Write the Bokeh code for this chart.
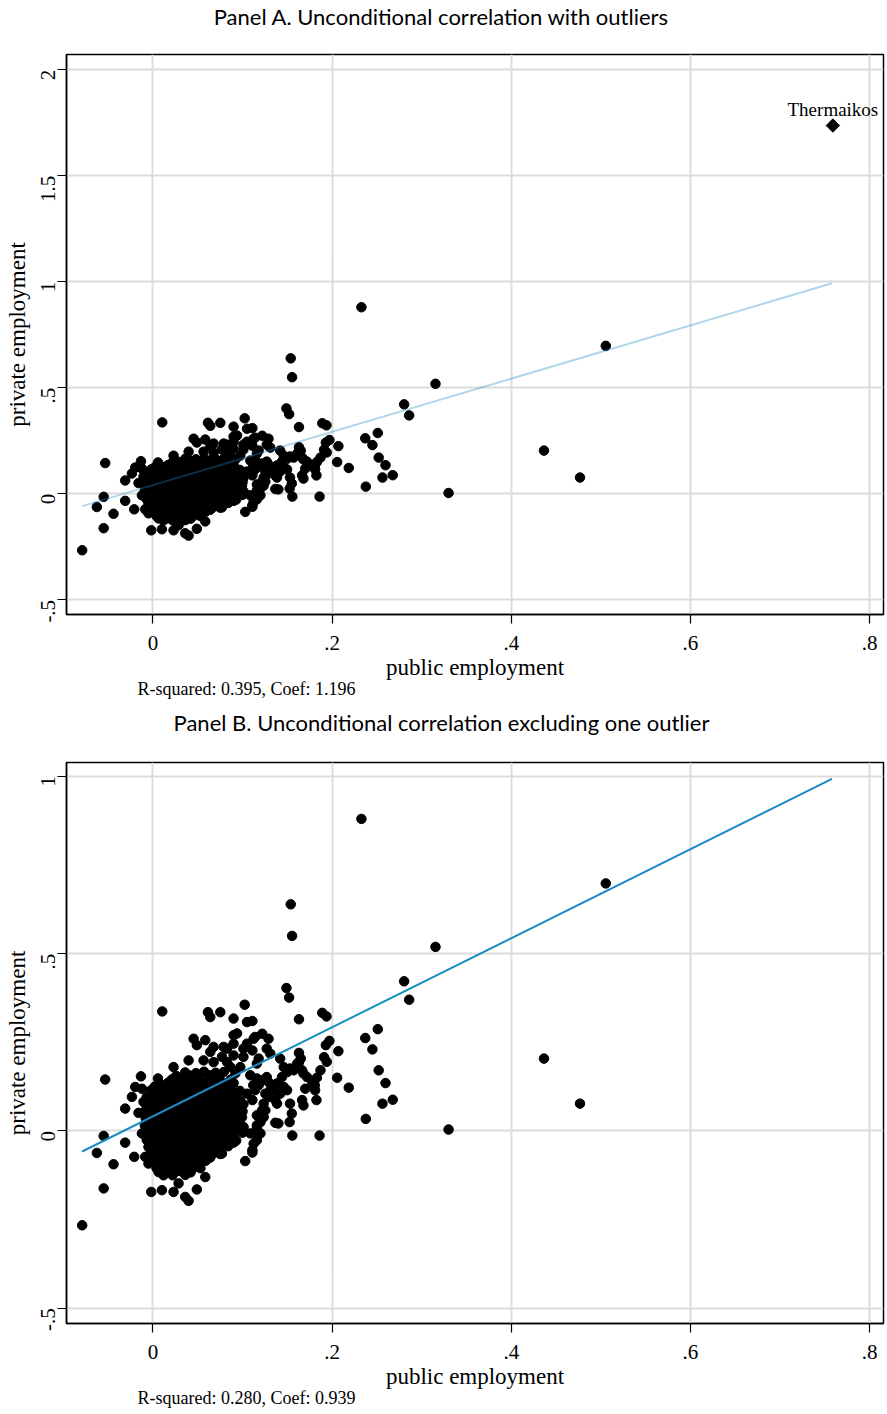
import math
from bokeh.plotting import figure
from bokeh.models import FixedTicker, Title, Range1d, ColumnDataSource
from bokeh.layouts import column
from bokeh.embed import file_html
from bokeh.resources import INLINE
from bokeh.core.properties import value

# ---------------- data ----------------
# scattered municipalities (public employment growth, private employment growth)
pub_outer = [0.2327, 0.1538, 0.1553, 0.3154, 0.2804, 0.286, 0.149, 0.152, 0.5055, 0.4365,
             0.4767, 0.330, 0.189, 0.1937, 0.163, 0.111, 0.251, 0.237, 0.245, 0.197,
             0.193, 0.207, 0.163, 0.165, 0.252, 0.2596, 0.191, 0.194, 0.2056, 0.2186,
             0.2677, 0.2562, 0.2376, 0.186, 0.1556, 0.187, 0.183, 0.1806, 0.170, 0.168,
             0.1665, 0.1825, 0.161, 0.1665, 0.168, 0.153, 0.155, 0.1526, 0.140, 0.1366,
             0.1236, 0.116, 0.116, 0.1124, 0.111, 0.146, 0.1497, 0.142, 0.1366, 0.1385,
             0.131, 0.1255, 0.1236, 0.1218, 0.127, 0.129, 0.122, 0.116, 0.118, 0.112,
             0.142, 0.146, 0.153, 0.157, 0.114, 0.122, 0.129, 0.127, 0.131, 0.118,
             0.0104, 0.0614, 0.064, 0.0752, 0.1024, 0.090, 0.105, 0.0939, 0.090, 0.1124,
             0.0454, 0.0584, 0.049, 0.0677, 0.0789, 0.090, 0.064, 0.0827, 0.0398, 0.023,
             0.0056, -0.0533, -0.0134, -0.0198, -0.0123, -0.0235, -0.031, -0.0161, -0.0105, -0.055,
             -0.0626, -0.044, -0.031, -0.0209, -0.055, -0.0019, -0.0123, -0.0086, -0.005, 0.0063,
             0.0118, 0.010, 0.023, 0.0286, 0.036, 0.0398, 0.049, 0.0584, 0.077, 0.103,
             0.111, 0.1087, 0.1012, 0.0994, 0.116, 0.116, 0.111, 0.105, 0.114, 0.1087,
             0.092, 0.0975, 0.116, 0.0864, -0.079, 0.172, 0.178, 0.181, 0.163, 0.150,
             0.144, 0.1385, 0.135, 0.129, 0.1255, 0.120, 0.0565, 0.0677, 0.0827, 0.101,
             0.111, 0.090, 0.077, 0.101, 0.105, 0.120, 0.116]
priv_outer = [0.880, 0.639, 0.550, 0.519, 0.422, 0.370, 0.403, 0.376, 0.698, 0.204,
              0.077, 0.004, 0.333, 0.323, 0.315, 0.310, 0.287, 0.262, 0.230, 0.254,
              0.242, 0.225, 0.220, 0.204, 0.171, 0.135, 0.208, 0.195, 0.150, 0.122,
              0.088, 0.077, 0.034, -0.013, -0.013, 0.171, 0.150, 0.129, 0.119, 0.072,
              0.087, 0.087, 0.190, 0.171, 0.162, 0.077, 0.049, 0.025, 0.021, 0.023,
              0.039, 0.007, -0.007, -0.036, -0.054, 0.124, 0.115, 0.105, 0.087, 0.077,
              0.115, 0.105, 0.077, 0.058, 0.152, 0.138, 0.143, 0.148, 0.129, 0.129,
              0.204, 0.180, 0.176, 0.171, 0.265, 0.274, 0.260, 0.232, 0.218, 0.204,
              0.337, 0.335, 0.321, 0.335, 0.356, 0.317, 0.307, 0.275, 0.270, 0.260,
              0.260, 0.256, 0.242, 0.237, 0.237, 0.246, 0.223, 0.232, 0.199, 0.180,
              0.148, 0.145, 0.154, 0.124, 0.119, 0.096, 0.063, 0.051, 0.082, -0.014,
              -0.062, -0.094, -0.033, -0.073, -0.162, -0.172, -0.007, -0.073, -0.092, -0.116,
              -0.125, -0.167, -0.172, -0.148, -0.186, -0.197, -0.165, -0.130, -0.064, -0.085,
              -0.061, -0.007, 0.011, 0.039, 0.016, 0.044, 0.087, 0.105, 0.115, 0.157,
              0.162, 0.180, 0.190, 0.180, -0.266, 0.152, 0.134, 0.115, 0.194, 0.166,
              0.152, 0.134, 0.115, 0.096, 0.058, 0.025, 0.199, 0.194, 0.194, 0.209,
              0.227, 0.213, 0.209, 0.232, 0.246, -0.007, -0.026]

# dense core of the cloud (solid black in the picture)
pub_core = [0.036, 0.048, 0.057, 0.070, 0.079,
            0.021, 0.031, 0.043, 0.052, 0.065, 0.074, 0.087,
            0.002, 0.013, 0.022, 0.034, 0.043, 0.054, 0.063, 0.075, 0.084,
            0.000, 0.011, 0.019, 0.031, 0.040, 0.051, 0.059, 0.071, 0.080, 0.092,
            -0.003, 0.008, 0.017, 0.028, 0.036, 0.047, 0.058, 0.066, 0.078, 0.087, 0.097,
            -0.005, 0.005, 0.016, 0.024, 0.035, 0.046, 0.054, 0.066, 0.074, 0.086, 0.095,
            -0.004, 0.007, 0.015, 0.027, 0.036, 0.045, 0.057, 0.065, 0.077, 0.086,
            -0.006, 0.004, 0.014, 0.025, 0.033, 0.044, 0.055, 0.063, 0.074, 0.083, 0.094,
            -0.005, 0.006, 0.015, 0.024, 0.036, 0.045, 0.054, 0.066, 0.075, 0.085, 0.095,
            -0.004, 0.006, 0.017, 0.026, 0.035, 0.047, 0.056, 0.065, 0.077, 0.088,
            -0.002, 0.009, 0.018, 0.027, 0.038, 0.049, 0.058, 0.067, 0.079, 0.090,
            0.000, 0.010, 0.021, 0.030, 0.041, 0.050, 0.061, 0.070,
            0.004, 0.015, 0.024, 0.033, 0.045, 0.054, 0.064,
            0.008, 0.018, 0.029, 0.038, 0.048,
            0.017, 0.030, 0.042,
            0.026, 0.041, 0.052, 0.063, 0.074,
            0.007, 0.017, 0.027, 0.038, 0.048, 0.058, 0.069, 0.080, 0.090,
            -0.002, 0.006, 0.016, 0.025, 0.036, 0.046, 0.056, 0.065, 0.076, 0.086, 0.097,
            -0.007, 0.002, 0.012, 0.022, 0.032, 0.042, 0.053, 0.062, 0.072, 0.083, 0.093,
            -0.008, 0.001, 0.011, 0.021, 0.031, 0.041, 0.051, 0.061, 0.071, 0.081, 0.092, 0.101,
            -0.009, 0.000, 0.010, 0.020, 0.030, 0.040, 0.050, 0.060, 0.070, 0.080, 0.091, 0.100,
            -0.008, 0.001, 0.011, 0.021, 0.031, 0.041, 0.051, 0.061, 0.071, 0.081, 0.090,
            -0.009, 0.000, 0.009, 0.019, 0.029, 0.039, 0.049, 0.059, 0.069, 0.079, 0.089, 0.099,
            -0.008, 0.000, 0.010, 0.020, 0.030, 0.040, 0.050, 0.060, 0.070, 0.080, 0.090, 0.100,
            -0.007, 0.001, 0.011, 0.021, 0.031, 0.041, 0.051, 0.061, 0.071, 0.082, 0.093,
            -0.005, 0.004, 0.013, 0.023, 0.033, 0.043, 0.053, 0.063, 0.073, 0.084,
            -0.003, 0.006, 0.015, 0.025, 0.035, 0.045, 0.055, 0.066, 0.075,
            0.000, 0.010, 0.019, 0.029, 0.039, 0.049, 0.059,
            0.004, 0.013, 0.023, 0.034, 0.044, 0.053,
            0.022, 0.036]
priv_core = [0.165, 0.163, 0.167, 0.164, 0.166,
             0.145, 0.147, 0.144, 0.146, 0.143, 0.147, 0.145,
             0.125, 0.127, 0.124, 0.126, 0.123, 0.127, 0.125, 0.124, 0.126,
             0.105, 0.103, 0.107, 0.104, 0.106, 0.103, 0.107, 0.105, 0.104, 0.106,
             0.085, 0.087, 0.084, 0.086, 0.083, 0.087, 0.085, 0.084, 0.086, 0.083, 0.087,
             0.065, 0.063, 0.067, 0.064, 0.066, 0.063, 0.067, 0.065, 0.064, 0.066, 0.063,
             0.045, 0.047, 0.044, 0.046, 0.043, 0.047, 0.045, 0.044, 0.046, 0.043,
             0.025, 0.023, 0.027, 0.024, 0.026, 0.023, 0.027, 0.025, 0.024, 0.026, 0.023,
             0.005, 0.007, 0.004, 0.006, 0.003, 0.007, 0.005, 0.004, 0.006, 0.003, 0.007,
             -0.015, -0.013, -0.017, -0.014, -0.016, -0.013, -0.017, -0.015, -0.014, -0.016,
             -0.035, -0.037, -0.034, -0.036, -0.033, -0.037, -0.035, -0.034, -0.036, -0.033,
             -0.055, -0.053, -0.057, -0.054, -0.056, -0.053, -0.057, -0.055,
             -0.075, -0.077, -0.074, -0.076, -0.073, -0.077, -0.075,
             -0.095, -0.093, -0.097, -0.094, -0.096,
             -0.115, -0.113, -0.117,
             0.155, 0.156, 0.154, 0.157, 0.153,
             0.135, 0.136, 0.134, 0.137, 0.133, 0.135, 0.136, 0.134, 0.135,
             0.115, 0.116, 0.114, 0.117, 0.113, 0.115, 0.116, 0.114, 0.115, 0.117, 0.113,
             0.095, 0.096, 0.094, 0.097, 0.093, 0.095, 0.096, 0.094, 0.095, 0.097, 0.093,
             0.075, 0.076, 0.074, 0.077, 0.073, 0.075, 0.076, 0.074, 0.075, 0.077, 0.073, 0.075,
             0.055, 0.056, 0.054, 0.057, 0.053, 0.055, 0.056, 0.054, 0.055, 0.057, 0.053, 0.055,
             0.035, 0.036, 0.034, 0.037, 0.033, 0.035, 0.036, 0.034, 0.035, 0.037, 0.033,
             0.015, 0.016, 0.014, 0.017, 0.013, 0.015, 0.016, 0.014, 0.015, 0.017, 0.013, 0.015,
             -0.005, -0.004, -0.006, -0.003, -0.007, -0.005, -0.004, -0.006, -0.005, -0.003, -0.007, -0.005,
             -0.025, -0.024, -0.026, -0.023, -0.027, -0.025, -0.024, -0.026, -0.025, -0.023, -0.027,
             -0.045, -0.044, -0.046, -0.043, -0.047, -0.045, -0.044, -0.046, -0.045, -0.043,
             -0.065, -0.064, -0.066, -0.063, -0.067, -0.065, -0.064, -0.066, -0.065,
             -0.085, -0.084, -0.086, -0.083, -0.087, -0.085, -0.084,
             -0.105, -0.104, -0.106, -0.103, -0.107, -0.105,
             -0.125, -0.124]

pub_emp = pub_outer + pub_core
priv_emp = priv_outer + priv_core

# the excluded outlier
outlier_pub = [0.759]
outlier_priv = [1.737]
outlier_name = ["Thermaikos"]

# fitted line end points
fit_x = [-0.079, 0.758]
fit_y = [-0.058, 0.993]

x_ticks = [0.0, 0.2, 0.4, 0.6, 0.8]
x_tick_labels = ["0", ".2", ".4", ".6", ".8"]
yA_ticks = [-0.5, 0.0, 0.5, 1.0, 1.5, 2.0]
yA_tick_labels = ["-.5", "0", ".5", "1", "1.5", "2"]
yB_ticks = [-0.5, 0.0, 0.5, 1.0]
yB_tick_labels = ["-.5", "0", ".5", "1"]

titles = ["Panel A. Unconditional correlation with outliers",
          "Panel B. Unconditional correlation excluding one outlier"]
notes = ["R-squared: 0.395, Coef: 1.196", "R-squared: 0.280, Coef: 0.939"]

SERIF = "Liberation Serif"
LINE_COLOR = "#1a8cc0"
FRAME_W = 817


def make_heading(text, height):
    # a thin strip holding the panel heading (its frame is aligned with the panels' frames)
    h = figure(frame_width=FRAME_W, frame_height=height,
               x_range=Range1d(0, FRAME_W), y_range=Range1d(0, height),
               x_axis_type=None, y_axis_type=None, min_border=0,
               output_backend="svg", toolbar_location=None,
               background_fill_color="white", border_fill_color="white")
    h.outline_line_color = None
    h.grid.visible = False
    src = ColumnDataSource(dict(x=[375], y=[height / 2], t=[text]))
    h.text("x", "y", text="t", source=src, text_font=value("Lato"),
           text_font_size="22px", text_align="center", text_baseline="middle",
           text_color="black")
    return h


def make_panel(note, y_range, y_ticks, y_labels, frame_h, b_top, b_bottom, line_alpha):
    p = figure(frame_width=FRAME_W, frame_height=frame_h,
               x_range=Range1d(-0.0965, 0.8155), y_range=Range1d(*y_range),
               min_border_left=66, min_border_right=4,
               min_border_top=b_top, min_border_bottom=b_bottom,
               output_backend="svg", toolbar_location=None,
               background_fill_color="white", border_fill_color="white")

    p.outline_line_color = "black"
    p.outline_line_width = 1.5

    p.xaxis.ticker = FixedTicker(ticks=x_ticks)
    p.xaxis.major_label_overrides = dict(zip(x_ticks, x_tick_labels))
    p.yaxis.ticker = FixedTicker(ticks=y_ticks)
    p.yaxis.major_label_overrides = dict(zip(y_ticks, y_labels))
    p.yaxis.major_label_orientation = math.pi / 2

    p.xaxis.axis_label = "public employment"
    p.yaxis.axis_label = "private employment"
    for ax in (p.xaxis, p.yaxis):
        ax.axis_label_text_font = SERIF
        ax.axis_label_text_font_size = "23px"
        ax.axis_label_text_font_style = "normal"
        ax.axis_label_text_color = "black"
        ax.major_label_text_font = SERIF
        ax.major_label_text_font_size = "21px"
        ax.major_label_text_color = "black"
        ax.axis_line_color = "black"
        ax.axis_line_width = 1.5
        ax.major_tick_line_color = "black"
        ax.major_tick_line_width = 1.2
        ax.major_tick_in = 0
        ax.major_tick_out = 9
        ax.minor_tick_line_color = None
        ax.axis_label_standoff = 2
    p.xaxis.major_label_standoff = 12
    p.yaxis.major_label_standoff = 9

    p.xgrid.grid_line_color = "#dcdcdc"
    p.ygrid.grid_line_color = "#dcdcdc"
    p.xgrid.grid_line_width = 2
    p.ygrid.grid_line_width = 2

    p.add_layout(Title(text=note, align="left", offset=71, text_font=SERIF,
                       text_font_size="18px", text_font_style="normal",
                       text_color="black", standoff=-12), "below")

    p.scatter(pub_emp, priv_emp, size=9.5, color="black")
    p.line(fit_x, fit_y, line_color=LINE_COLOR, line_width=2, line_alpha=line_alpha)
    return p


hA = make_heading(titles[0], 32)
pA = make_panel(notes[0], (-0.569, 2.072), yA_ticks, yA_tick_labels, 560, 22, 91, 0.35)
src_out = ColumnDataSource(dict(x=outlier_pub, y=outlier_priv, name=outlier_name))
pA.scatter("x", "y", source=src_out, marker="square", angle=math.pi / 4,
           size=9.5, color="black")
pA.text("x", "y", text="name", source=src_out, text_font=value(SERIF),
        text_font_size="19px", text_align="center", text_baseline="middle",
        y_offset=-16, text_color="black")

hB = make_heading(titles[1], 34)
pB = make_panel(notes[1], (-0.543, 1.039), yB_ticks, yB_tick_labels, 561, 23, 88, 1.0)

layout = column(hA, pA, hB, pB, spacing=0)
open("out.html", "w").write(file_html(layout, INLINE))
